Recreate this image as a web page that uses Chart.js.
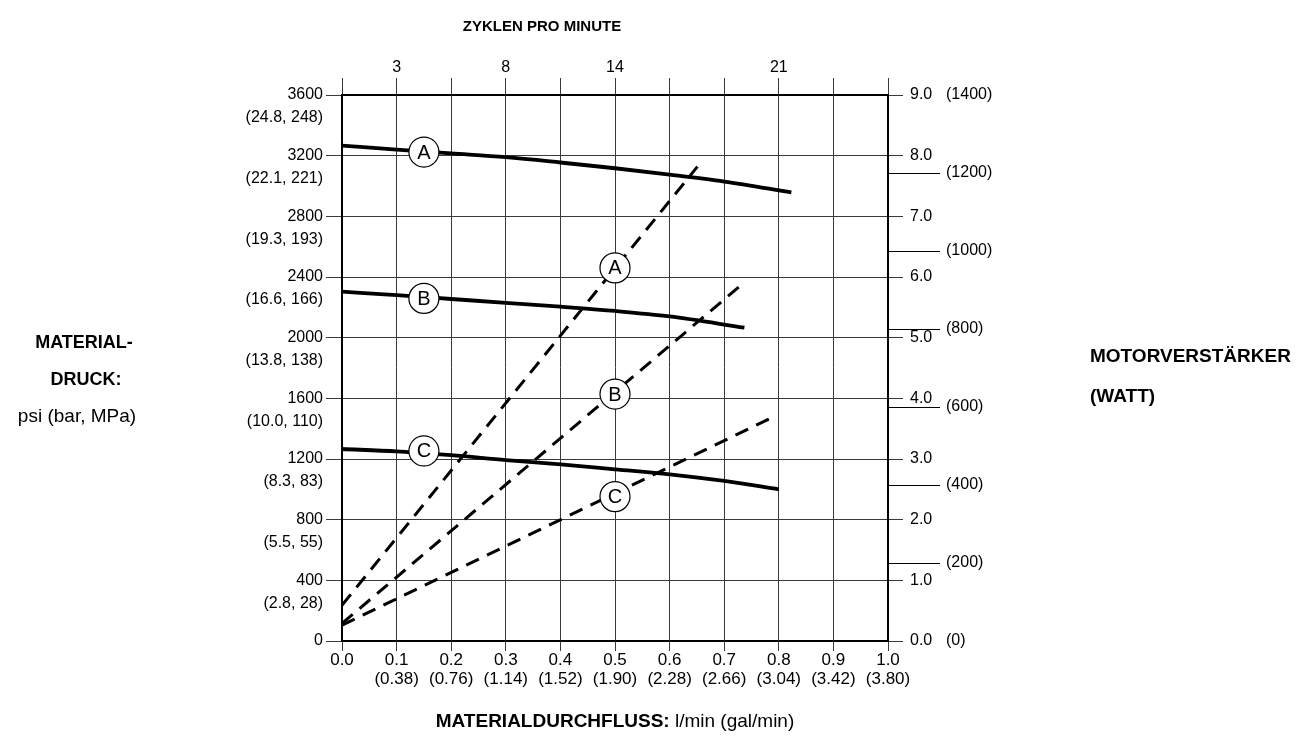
<!DOCTYPE html>
<html>
<head>
<meta charset="utf-8">
<script src="https://cdn.jsdelivr.net/npm/chart.js@4"></script>
<style>
  body { margin: 0; background: #fff; }
  #chart { display: block; }
</style>
</head>
<body>
<canvas id="chart" width="1314" height="751"></canvas>
<script>
// durchfluss (x) ticks
const flowTicks = [0, 0.1, 0.2, 0.3, 0.4, 0.5, 0.6, 0.7, 0.8, 0.9, 1.0];
const flowAltLabels = ['', '(0.38)', '(0.76)', '(1.14)', '(1.52)', '(1.90)', '(2.28)', '(2.66)', '(3.04)', '(3.42)', '(3.80)'];
// zyklen pro minute (oben)
const cycleAt = [0.1, 0.3, 0.5, 0.8];
const cycleLabels = ['3', '8', '14', '21'];
// druck links
const psiTicks = [0, 400, 800, 1200, 1600, 2000, 2400, 2800, 3200, 3600];
const barMpaLabels = ['', '(2.8, 28)', '(5.5, 55)', '(8.3, 83)', '(10.0, 110)', '(13.8, 138)', '(16.6, 166)', '(19.3, 193)', '(22.1, 221)', '(24.8, 248)'];
// motor rechts
const ampTicks = [0, 1, 2, 3, 4, 5, 6, 7, 8, 9];
const wattTicks = [0, 200, 400, 600, 800, 1000, 1200, 1400];

// druckkurven (psi)
const curveX = {
  A: [0, 0.1, 0.2, 0.3, 0.4, 0.5, 0.6, 0.7, 0.823],
  B: [0, 0.1, 0.2, 0.3, 0.4, 0.5, 0.6, 0.737],
  C: [0, 0.1, 0.2, 0.3, 0.4, 0.5, 0.6, 0.7, 0.8]
};
const curvePsi = {
  A: [3266, 3240, 3215, 3190, 3155, 3117, 3075, 3029, 2958],
  B: [2303, 2280, 2255, 2230, 2204, 2176, 2140, 2066],
  C: [1266, 1250, 1225, 1193, 1165, 1132, 1099, 1055, 1000]
};
// motor (rechte achse), gerade linien
const motorX = { A: [0, 0.651], B: [0, 0.738], C: [0, 0.796] };
const motorVal = { A: [0.59, 7.82], B: [0.29, 5.92], C: [0.26, 3.72] };

// kreis-markierungen
const curveMarkX = 0.15;
const curveMarkPsi = { A: 3224, B: 2259, C: 1253 };
const motorMarkX = 0.5;
const motorMarkVal = { A: 6.15, B: 4.07, C: 2.38 };

const FONT = '"Liberation Sans", Arial, sans-serif';
const GRID = '#3a3a3a';

function pts(xs, ys) {
  return xs.map((x, i) => ({ x: x, y: ys[i] }));
}

const datasets = [];
['A', 'B', 'C'].forEach(k => {
  datasets.push({
    label: 'mark-psi-' + k, letter: k, type: 'scatter',
    data: [{ x: curveMarkX, y: curveMarkPsi[k] }],
    xAxisID: 'x', yAxisID: 'y', order: 0,
    pointRadius: 15, pointHoverRadius: 15,
    pointBackgroundColor: '#fff', pointBorderColor: '#000', pointBorderWidth: 1.2
  });
  datasets.push({
    label: 'mark-motor-' + k, letter: k, type: 'scatter',
    data: [{ x: motorMarkX, y: motorMarkVal[k] }],
    xAxisID: 'x', yAxisID: 'yAmp', order: 0,
    pointRadius: 15, pointHoverRadius: 15,
    pointBackgroundColor: '#fff', pointBorderColor: '#000', pointBorderWidth: 1.2
  });
});
['A', 'B', 'C'].forEach(k => {
  datasets.push({
    label: 'psi-' + k,
    data: pts(curveX[k], curvePsi[k]),
    xAxisID: 'x', yAxisID: 'y', order: 1,
    borderColor: '#000', borderWidth: 3.8,
    pointRadius: 0, tension: 0.4, cubicInterpolationMode: 'monotone'
  });
  datasets.push({
    label: 'motor-' + k,
    data: pts(motorX[k], motorVal[k]),
    xAxisID: 'x', yAxisID: 'yAmp', order: 1,
    borderColor: '#000', borderWidth: 3, borderDash: [14, 9],
    pointRadius: 0
  });
});

// buchstaben in die kreise + achsentitel
const textPlugin = {
  id: 'texts',
  afterLayout(chart) {
    // watt-achse liegt auf der amp-achse, braucht aber platz fuer die labels
    const s = chart.scales.yWatt;
    s.right = s.left + 426;
    s.width = 426;
  },
  afterDatasetsDraw(chart) {
    const c = chart.ctx;
    c.save();
    c.fillStyle = '#000';
    c.font = '20px ' + FONT;
    c.textAlign = 'center';
    c.textBaseline = 'middle';
    chart.data.datasets.forEach((ds, i) => {
      if (!ds.letter) return;
      chart.getDatasetMeta(i).data.forEach(p => c.fillText(ds.letter, p.x, p.y + 1));
    });
    c.restore();
  },
  afterDraw(chart) {
    const c = chart.ctx;
    const a = chart.chartArea;
    c.save();
    c.fillStyle = '#000';
    c.textBaseline = 'middle';
    c.textAlign = 'center';
    c.font = 'bold 15px ' + FONT;
    c.fillText('ZYKLEN PRO MINUTE', 542, 27);
    c.font = 'bold 18px ' + FONT;
    c.fillText('MATERIAL-', 84, 343);
    c.fillText('DRUCK:', 86, 380);
    c.font = '19px ' + FONT;
    c.fillText('psi (bar, MPa)', 77, 417);
    c.textAlign = 'left';
    c.font = 'bold 19px ' + FONT;
    c.fillText('MOTORVERSTÄRKER', 1090, 357);
    c.fillText('(WATT)', 1090, 397);
    // unten
    const b1 = 'MATERIALDURCHFLUSS:';
    const b2 = ' l/min (gal/min)';
    c.font = 'bold 19px ' + FONT;
    const w1 = c.measureText(b1).width;
    c.font = '19px ' + FONT;
    const w2 = c.measureText(b2).width;
    const x0 = (a.left + a.right) / 2 - (w1 + w2) / 2;
    c.font = 'bold 19px ' + FONT;
    c.fillText(b1, x0, 722);
    c.font = '19px ' + FONT;
    c.fillText(b2, x0 + w1, 722);
    c.restore();
  }
};

new Chart(document.getElementById('chart'), {
  type: 'line',
  data: { datasets: datasets },
  options: {
    responsive: false,
    animation: false,
    devicePixelRatio: 1,
    layout: { padding: 0 },
    plugins: { legend: { display: false }, tooltip: { enabled: false } },
    scales: {
      x: {
        type: 'linear', position: 'bottom', min: 0, max: 1,
        afterFit: s => { s.height = 110; },
        afterBuildTicks: s => { s.ticks = flowTicks.map(v => ({ value: v })); },
        ticks: {
          color: '#000', font: { family: FONT, size: 17, lineHeight: 1.1 }, padding: 0,
          maxRotation: 0, autoSkip: false,
          callback: (v) => {
            const i = flowTicks.findIndex(t => Math.abs(t - v) < 1e-6);
            return flowAltLabels[i] ? [v.toFixed(1), flowAltLabels[i]] : v.toFixed(1);
          }
        },
        grid: { color: GRID, lineWidth: 1, tickLength: 10 },
        border: { color: '#000', width: 2 }
      },
      xTop: {
        type: 'linear', position: 'top', min: 0, max: 1,
        afterFit: s => { s.height = 95; },
        afterBuildTicks: s => { s.ticks = flowTicks.map(v => ({ value: v })); },
        ticks: {
          color: '#000', font: { family: FONT, size: 16, lineHeight: 1.2 }, padding: 1,
          maxRotation: 0, autoSkip: false,
          callback: (v) => {
            const i = cycleAt.findIndex(t => Math.abs(t - v) < 1e-6);
            return i >= 0 ? cycleLabels[i] : '';
          }
        },
        grid: { color: GRID, lineWidth: 1, tickLength: 17, drawOnChartArea: false },
        border: { color: '#000', width: 2 }
      },
      y: {
        type: 'linear', position: 'left', min: 0, max: 3600,
        afterFit: s => { s.width = 342; },
        afterBuildTicks: s => { s.ticks = psiTicks.map(v => ({ value: v })); },
        ticks: {
          color: '#000', font: { family: FONT, size: 16, lineHeight: '23px' }, padding: 3,
          autoSkip: false,
          callback: (v) => {
            const i = psiTicks.indexOf(v);
            return barMpaLabels[i] ? ['', String(v), barMpaLabels[i]] : String(v);
          }
        },
        grid: { color: GRID, lineWidth: 1, tickLength: 16 },
        border: { color: '#000', width: 2 }
      },
      yWatt: {
        type: 'linear', position: 'right', min: 0, max: 1400, weight: 0,
        afterFit: s => { s.width = 0; },
        afterBuildTicks: s => { s.ticks = wattTicks.map(v => ({ value: v })); },
        ticks: {
          color: '#000', font: { family: FONT, size: 16 }, padding: 6, autoSkip: false,
          callback: (v) => '(' + v + ')'
        },
        grid: {
          drawOnChartArea: false, tickLength: 52, lineWidth: 1,
          color: ctx => (ctx.tick && (ctx.tick.value === 0 || ctx.tick.value === 1400)) ? 'rgba(0,0,0,0)' : '#000'
        },
        border: { display: false }
      },
      yAmp: {
        type: 'linear', position: 'right', min: 0, max: 9, weight: 1,
        afterFit: s => { s.width = 426; },
        afterBuildTicks: s => { s.ticks = ampTicks.map(v => ({ value: v })); },
        ticks: {
          color: '#000', font: { family: FONT, size: 16 }, padding: 7, autoSkip: false,
          callback: v => v.toFixed(1)
        },
        grid: { color: GRID, lineWidth: 1, tickLength: 15, drawOnChartArea: false },
        border: { color: '#000', width: 2 }
      }
    }
  },
  plugins: [textPlugin]
});
</script>
</body>
</html>
